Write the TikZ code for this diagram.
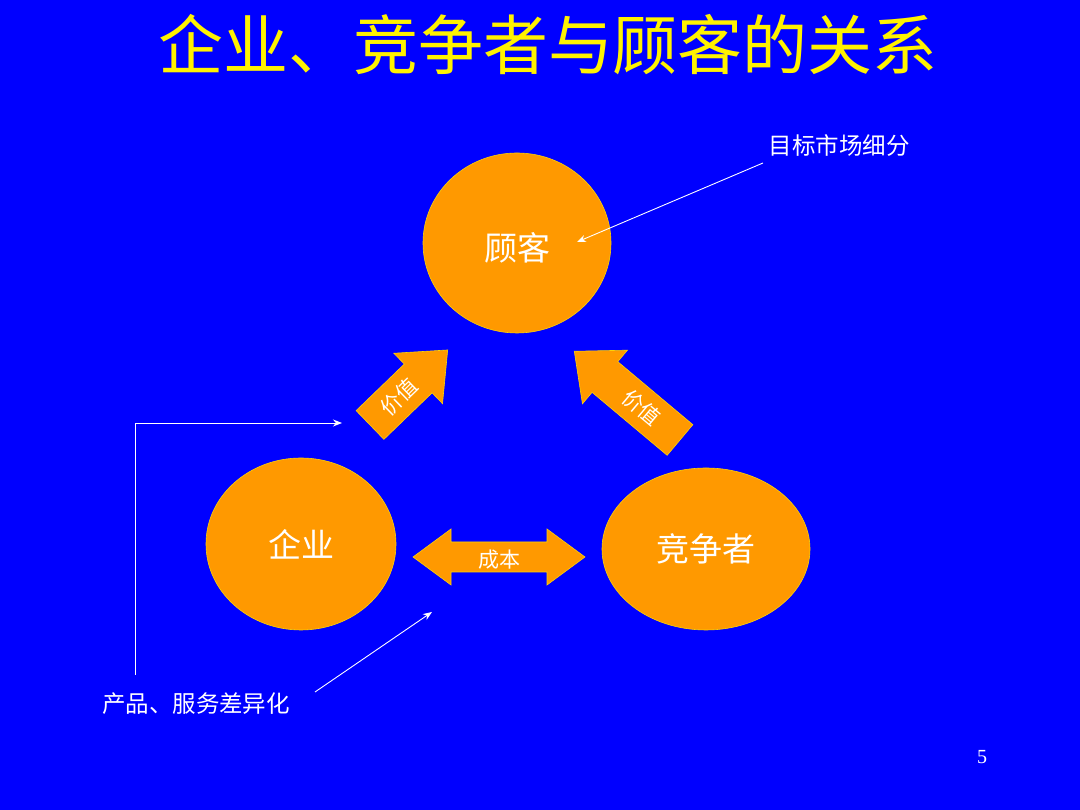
\documentclass[tikz,border=0pt]{standalone}
\usepackage{fontspec}
\setmainfont{Liberation Serif}
\newfontfamily\cjk{Noto Sans CJK SC}
\begin{document}
\begin{tikzpicture}[x=1pt,y=1pt,
  circ/.style={fill=orange1,draw=yellow!70!orange,line width=0.6pt},
  blk/.style={fill=orange1,draw=yellow!70!orange,line width=0.6pt},
  lbl/.style={text=white,font=\cjk\fontsize{21}{24}\selectfont},
  wline/.style={white,line width=0.9pt},
  tip/.style={-{Stealth[length=9pt,width=7pt]}}]
\usetikzlibrary{arrows.meta}
\definecolor{orange1}{HTML}{FF9900}
\definecolor{bg}{HTML}{0000FF}
\fill[bg] (0,0) rectangle (1080,810);
\useasboundingbox (0,0) rectangle (1080,810);
\node[text=yellow,font=\cjk\fontsize{65}{70}\selectfont] (title) at (548,765) {企业、竞争者与顾客的关系};
\draw[circ] (517,567) ellipse [x radius=94,y radius=90];
\node[lbl,font=\cjk\fontsize{33}{36}\selectfont] (gk) at (517,562) {顾客};
\draw[circ] (301,266) ellipse [x radius=95,y radius=86];
\node[lbl,font=\cjk\fontsize{33}{36}\selectfont] (qy) at (301,266) {企业};
\draw[circ] (706,261) ellipse [x radius=104,y radius=81];
\node[lbl,font=\cjk\fontsize{33}{36}\selectfont] (jz) at (706,261) {竞争者};
% left arrow
\begin{scope}[shift={(370,385)},rotate=44]
\draw[blk] (0,-20)--(67,-20)--(67,-35)--(108,0)--(67,35)--(67,20)--(0,20)--cycle;
\node[lbl,transform shape] (v1) at (40,0) {价值};
\end{scope}
% right arrow
\begin{scope}[shift={(680,370)},rotate=140]
\draw[blk] (0,-20)--(98,-20)--(98,-35)--(138,0)--(98,35)--(98,20)--(0,20)--cycle;
\node[lbl,transform shape,rotate=180] (v2) at (50,0) {价值};
\end{scope}
% double arrow
\draw[blk] (413,253)--(451,281)--(451,268)--(547,268)--(547,281)--(585,253)--(547,225)--(547,238)--(451,238)--(451,225)--cycle;
\node[lbl] (cb) at (499,250) {成本};
% labels and lines
\node[lbl,font=\cjk\fontsize{23.5}{26}\selectfont] (t1) at (839,664) {目标市场细分};
\node[lbl,font=\cjk\fontsize{23.5}{26}\selectfont] (t2) at (196,106) {产品、服务差异化};
\coordinate (t1e) at (763,647);
\coordinate (gke) at (577,568);
\draw[wline,tip] (t1e)--(gke);
\coordinate (t2e) at (315,118);
\coordinate (ce) at (432,198);
\draw[wline,tip] (t2e)--(ce);
\coordinate (p1) at (135,135);
\coordinate (p2) at (342,387);
\draw[wline,tip] (p1)|-(p2);
\node[text=white,font=\fontsize{20}{24}\selectfont] (pg) at (982,53) {5};
\end{tikzpicture}
\end{document}
